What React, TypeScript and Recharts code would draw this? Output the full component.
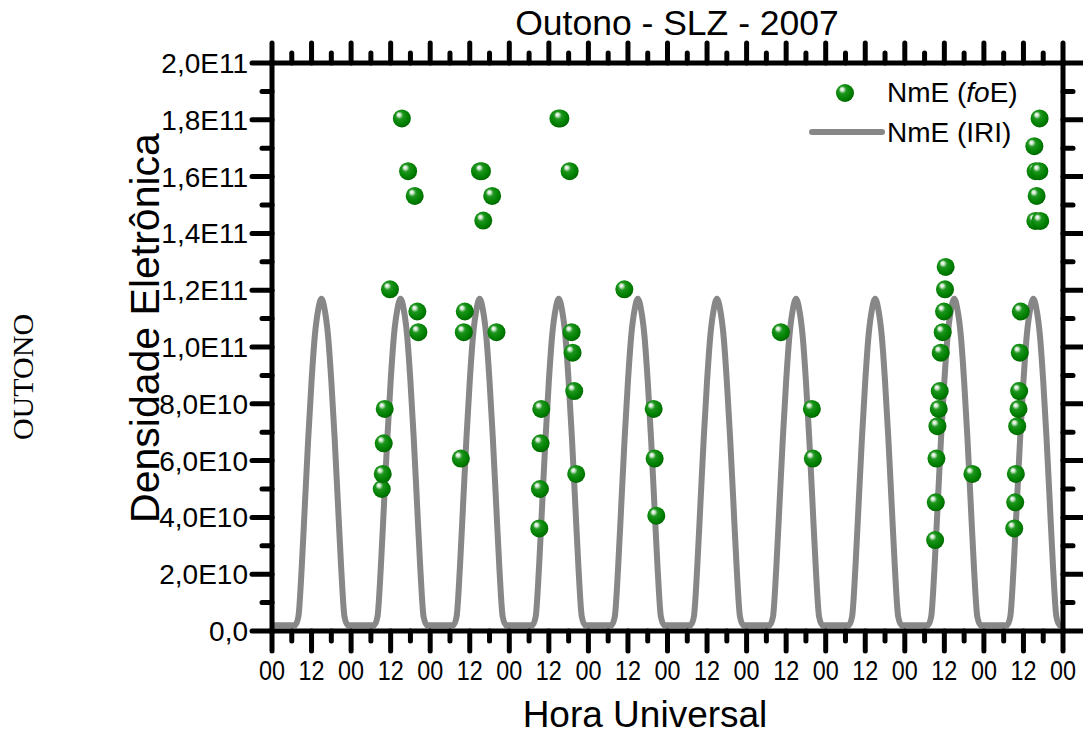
import React from "react";
import { ComposedChart, Line, Scatter, XAxis, YAxis, Legend } from "recharts";

const FONT = '"Liberation Sans", Arial, sans-serif';
const E9 = 1e9;

// IRI model NmE, hourly from 00 UT of the first day (units of 1e9)
const iriNmE = [
  2, 2, 2, 2, 2, 2, 2, 2, 5, 22, 45, 68, 88, 104, 113, 117, 113, 104, 88, 68, 45, 22, 5, 2,
  2, 2, 2, 2, 2, 2, 2, 2, 5, 22, 45, 68, 88, 104, 113, 117, 113, 104, 88, 68, 45, 22, 5, 2,
  2, 2, 2, 2, 2, 2, 2, 2, 5, 22, 45, 68, 88, 104, 113, 117, 113, 104, 88, 68, 45, 22, 5, 2,
  2, 2, 2, 2, 2, 2, 2, 2, 5, 22, 45, 68, 88, 104, 113, 117, 113, 104, 88, 68, 45, 22, 5, 2,
  2, 2, 2, 2, 2, 2, 2, 2, 5, 22, 45, 68, 88, 104, 113, 117, 113, 104, 88, 68, 45, 22, 5, 2,
  2, 2, 2, 2, 2, 2, 2, 2, 5, 22, 45, 68, 88, 104, 113, 117, 113, 104, 88, 68, 45, 22, 5, 2,
  2, 2, 2, 2, 2, 2, 2, 2, 5, 22, 45, 68, 88, 104, 113, 117, 113, 104, 88, 68, 45, 22, 5, 2,
  2, 2, 2, 2, 2, 2, 2, 2, 5, 22, 45, 68, 88, 104, 113, 117, 113, 104, 88, 68, 45, 22, 5, 2,
  2, 2, 2, 2, 2, 2, 2, 2, 5, 22, 45, 68, 88, 104, 113, 117, 113, 104, 88, 68, 45, 22, 5, 2,
  2, 2, 2, 2, 2, 2, 2, 2, 5, 22, 45, 68, 88, 104, 113, 117, 113, 104, 88, 68, 45, 22, 5, 2,
  2,
];

// NmE from foE soundings: hour (UT, counted from the first day) and value (units of 1e9)
const foeHour = [
  33.3, 33.6, 33.9, 34.2, 35.8, 39.4, 41.3, 43.3, 44.1, 44.4,
  57.3, 58.2, 58.5, 63.1, 63.7, 64.1, 66.8, 68.1,
  81.1, 81.3, 81.5, 81.7, 86.9, 87.5, 90.3, 90.9, 91.2, 91.7, 92.3,
  106.9, 115.8, 116.1, 116.6,
  154.4, 163.8, 164.1,
  201.2, 201.4, 201.6, 201.9, 202.3, 202.6, 202.9, 203.5, 203.9, 204.2, 204.4, 212.5,
  225.2, 225.5, 225.7, 226.1, 226.5, 226.7, 226.9, 227.2, 231.3, 231.7, 232.8, 232.0, 231.6, 233.1, 232.9,
];
const foeNmE = [
  50.0, 55.3, 66.1, 78.2, 120.3, 180.5, 161.9, 153.2, 112.5, 105.2,
  60.7, 105.2, 112.5, 161.9, 161.9, 144.5, 153.2, 105.2,
  36.1, 50.0, 66.1, 78.2, 180.5, 180.5, 161.9, 105.2, 98.0, 84.5, 55.3,
  120.3, 78.2, 60.7, 40.6,
  105.2, 78.2, 60.7,
  32.0, 45.3, 60.7, 72.1, 78.2, 84.5, 98.0, 105.2, 112.5, 120.3, 128.2, 55.3,
  36.1, 45.3, 55.3, 72.1, 78.2, 84.5, 98.0, 112.5, 170.7, 161.9, 161.9, 153.2, 144.4, 144.4, 180.5,
];

const xTicks = [
  0, 6, 12, 18, 24, 30, 36, 42, 48, 54, 60, 66, 72, 78, 84, 90, 96, 102, 108, 114, 120,
  126, 132, 138, 144, 150, 156, 162, 168, 174, 180, 186, 192, 198, 204, 210, 216, 222, 228, 234, 240,
];
const xTickLabels = [
  "00", "", "12", "", "00", "", "12", "", "00", "", "12", "", "00", "", "12", "", "00", "", "12", "", "00",
  "", "12", "", "00", "", "12", "", "00", "", "12", "", "00", "", "12", "", "00", "", "12", "", "00",
];
const yTicks = [
  0, 1e10, 2e10, 3e10, 4e10, 5e10, 6e10, 7e10, 8e10, 9e10, 1e11,
  1.1e11, 1.2e11, 1.3e11, 1.4e11, 1.5e11, 1.6e11, 1.7e11, 1.8e11, 1.9e11, 2e11,
];
const yTickLabels = [
  "0,0", "", "2,0E10", "", "4,0E10", "", "6,0E10", "", "8,0E10", "", "1,0E11",
  "", "1,2E11", "", "1,4E11", "", "1,6E11", "", "1,8E11", "", "2,0E11",
];

const iriData = iriNmE.map((v, i) => ({ h: i, nme: v * E9 }));
const foeData = foeHour.map((h, i) => ({ h, nme: foeNmE[i] * E9 }));

const xLabel = (v: number) => xTickLabels[xTicks.indexOf(v)] ?? "";
const yLabel = (v: number) => yTickLabels[yTicks.indexOf(v)] ?? "";

const tickStroke = { stroke: "#000", strokeWidth: 5, strokeLinecap: "round" as const };

const BottomTick = ({ x, y, payload }: any) => {
  const label = xLabel(payload.value);
  const major = label !== "";
  return (
    <g>
      <line x1={x} y1={y} x2={x} y2={y + (major ? 20 : 10)} {...tickStroke} />
      {major && (
        <text
          x={x}
          y={y + 49}
          textAnchor="middle"
          fontSize={28}
          fontFamily={FONT}
          fill="#000"
          textLength={26}
          lengthAdjust="spacingAndGlyphs"
        >
          {label}
        </text>
      )}
    </g>
  );
};

const TopTick = ({ x, y, payload }: any) => {
  const major = xLabel(payload.value) !== "";
  return <line x1={x} y1={y} x2={x} y2={y - (major ? 20 : 10)} {...tickStroke} />;
};

const LeftTick = ({ x, y, payload }: any) => {
  const label = yLabel(payload.value);
  const major = label !== "";
  return (
    <g>
      <line x1={x} y1={y} x2={x - (major ? 20 : 10)} y2={y} {...tickStroke} />
      {major && (
        <text x={x - 24} y={y + 10} textAnchor="end" fontSize={28} fontFamily={FONT} fill="#000">
          {label}
        </text>
      )}
    </g>
  );
};

const RightTick = ({ x, y, payload }: any) => {
  const major = yLabel(payload.value) !== "";
  return <line x1={x} y1={y} x2={x + (major ? 20 : 10)} y2={y} {...tickStroke} />;
};

const Ball = ({ cx, cy }: any) => <circle cx={cx} cy={cy} r={9} fill="url(#foeBall)" />;

const LegendBox = () => (
  <svg width={270} height={85} style={{ display: "block" }}>
    <circle cx={45} cy={23} r={9} fill="url(#foeBall)" />
    <text x={87} y={32} fontSize={28} fontFamily={FONT} fill="#000">
      NmE (<tspan fontStyle="italic">fo</tspan>E)
    </text>
    <line x1={12} y1={62} x2={82} y2={62} stroke="#878787" strokeWidth={6} strokeLinecap="round" />
    <text x={87} y={72} fontSize={28} fontFamily={FONT} fill="#000">
      NmE (IRI)
    </text>
  </svg>
);

const axisLine = { stroke: "#000", strokeWidth: 5, strokeLinecap: "square" as const };

export default function App() {
  return (
    <div style={{ position: "absolute", left: 0, top: 0, width: 1083, height: 734, background: "#fff" }}>
      <svg width={1083} height={734} style={{ position: "absolute", left: 0, top: 0 }}>
        <defs>
          <radialGradient id="foeBall" cx="45%" cy="42%" r="60%" fx="32%" fy="28%">
            <stop offset="0" stopColor="#ffffff" />
            <stop offset="0.15" stopColor="#cfe8cf" />
            <stop offset="0.35" stopColor="#1e961e" />
            <stop offset="0.75" stopColor="#008000" />
            <stop offset="1" stopColor="#006400" />
          </radialGradient>
        </defs>
        <text x={677} y={35} textAnchor="middle" fontSize={35.5} fontFamily={FONT} fill="#000">
          Outono - SLZ - 2007
        </text>
        <text
          transform="translate(33,377) rotate(-90)"
          textAnchor="middle"
          fontSize={30}
          fontFamily='"Liberation Serif", "Times New Roman", serif'
          fill="#000"
        >
          OUTONO
        </text>
      </svg>
      <div style={{ position: "absolute", left: 0, top: 0 }}>
        <ComposedChart width={1083} height={734} margin={{ top: 33, right: 0, bottom: 3, left: 172 }}>
          <XAxis
            xAxisId="bottom"
            dataKey="h"
            type="number"
            domain={[0, 240]}
            allowDataOverflow
            ticks={xTicks}
            interval={0}
            height={100}
            tickSize={0}
            tickMargin={0}
            tickLine={false}
            axisLine={axisLine}
            tick={<BottomTick />}
            label={{
              content: () => (
                <text x={645} y={727} textAnchor="middle" fontSize={37} fontFamily={FONT} fill="#000">
                  Hora Universal
                </text>
              ),
            }}
          />
          <XAxis
            xAxisId="top"
            orientation="top"
            dataKey="h"
            type="number"
            domain={[0, 240]}
            allowDataOverflow
            ticks={xTicks}
            interval={0}
            height={30}
            tickSize={0}
            tickMargin={0}
            tickLine={false}
            axisLine={axisLine}
            tick={<TopTick />}
          />
          <YAxis
            yAxisId="left"
            dataKey="nme"
            type="number"
            domain={[0, 2e11]}
            allowDataOverflow
            ticks={yTicks}
            interval={0}
            width={100}
            tickSize={0}
            tickMargin={0}
            tickLine={false}
            axisLine={axisLine}
            tick={<LeftTick />}
            label={{
              content: () => (
                <text
                  transform="translate(159,328) rotate(-90)"
                  textAnchor="middle"
                  fontSize={41}
                  fontFamily={FONT}
                  fill="#000"
                >
                  Densidade Eletrônica
                </text>
              ),
            }}
          />
          <YAxis
            yAxisId="right"
            orientation="right"
            dataKey="nme"
            type="number"
            domain={[0, 2e11]}
            allowDataOverflow
            ticks={yTicks}
            interval={0}
            width={20}
            tickSize={0}
            tickMargin={0}
            tickLine={false}
            axisLine={axisLine}
            tick={<RightTick />}
          />
          <Line
            xAxisId="bottom"
            yAxisId="left"
            data={iriData}
            dataKey="nme"
            name="NmE (IRI)"
            type="monotone"
            stroke="#878787"
            strokeWidth={6}
            dot={false}
            activeDot={false}
            isAnimationActive={false}
          />
          {/* the soundings use the top/right pair, which shares the same domains */}
          <Scatter
            xAxisId="top"
            yAxisId="right"
            data={foeData}
            dataKey="nme"
            name="NmE (foE)"
            shape={<Ball />}
            isAnimationActive={false}
          />
          {/* vertical + centred + middle keeps the legend from shrinking the plot area */}
          <Legend
            layout="vertical"
            align="center"
            verticalAlign="middle"
            content={<LegendBox />}
            wrapperStyle={{ position: "absolute", left: 800, top: 70, width: 270 }}
          />
        </ComposedChart>
      </div>
    </div>
  );
}
